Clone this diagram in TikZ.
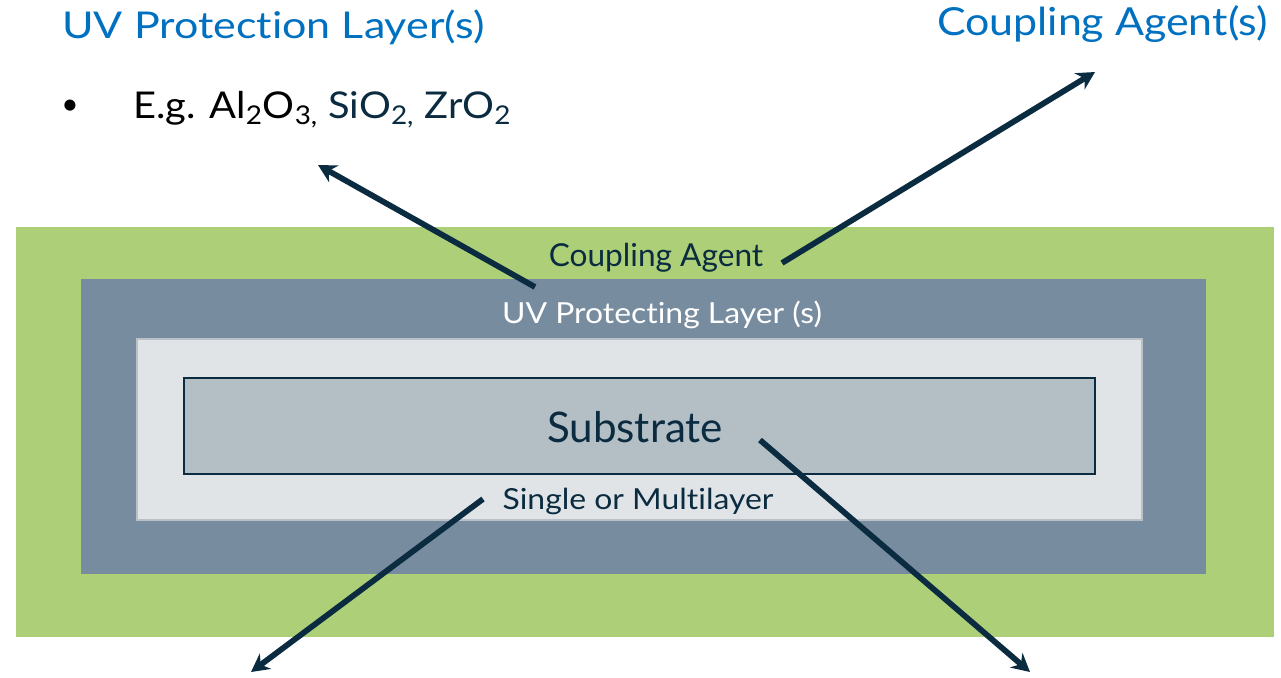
\documentclass[tikz,border=0pt]{standalone}
\usepackage{graphicx}
\usepackage{fontspec}
\setmainfont{Lato}[Ligatures=NoCommon]
\usetikzlibrary{arrows.meta}
\definecolor{coupgreen}{HTML}{ADCF78}
\definecolor{uvslate}{HTML}{788C9F}
\definecolor{layerpale}{HTML}{E0E4E7}
\definecolor{layeredge}{HTML}{B9C0C7}
\definecolor{subgray}{HTML}{B4BEC5}
\definecolor{navy}{HTML}{0B2C40}
\definecolor{titleblue}{HTML}{0070C0}
\tikzstyle{arrow} = [line width=0.115cm, draw=navy, -{Stealth[length=0.36cm,width=0.38cm]}]
\tikzstyle{lbl} = [inner sep=0pt, anchor=base]
\def\fsz#1{\fontsize{#1}{#1}\selectfont}
\def\wide#1#2{\scalebox{#1}[1]{#2}}

\begin{document}
\begin{tikzpicture}[x=0.02cm, y=-0.02cm]
\useasboundingbox (0,0) rectangle (1281,677);
% layers
\fill[coupgreen] (16,227) rectangle (1274,637);
\fill[uvslate] (81,279) rectangle (1206,574);
\filldraw[fill=layerpale, draw=layeredge, line width=0.03cm] (137,339) rectangle (1142,520);
\filldraw[fill=subgray, draw=navy, line width=0.03cm] (184,378) rectangle (1095,474);
% labels inside
\node[lbl, text=navy, font=\fsz{18}] (coup) at (656,266) {Coupling Agent};
\node[lbl, text=white, font=\fsz{16.5}] (uvlayer) at (662,323) {\wide{1.1}{UV Protecting Layer (s)}};
\node[lbl, text=navy, font=\fsz{24}] (sub) at (635,442) {Substrate};
\node[lbl, text=navy, font=\fsz{16.5}] (multi) at (638,509) {\wide{1.1}{Single or Multilayer}};
% labels outside
\node[lbl, anchor=base west, text=titleblue, font=\fsz{21}] (uvtitle) at (62,38) {\wide{1.165}{UV Protection Layer(s)}};
\node[lbl, anchor=base west, font=\fsz{17}] (bul) at (61,114) {\textbullet};
\node[lbl, anchor=base west, font=\fsz{21}] (eg) at (133,118) {\wide{1.08}{E.g. Al\textsubscript{2}O\textsubscript{3,} \textcolor{navy}{SiO\textsubscript{2,} ZrO\textsubscript{2}}}};
\node[lbl, anchor=base east, text=titleblue, font=\fsz{22}] (cagent) at (1268,35) {\wide{1.11}{Coupling Agent(s)}};
% arrows
\coordinate (a1) at (535,287);
\coordinate (b1) at (318,165);
\coordinate (a2) at (782,263);
\coordinate (b2) at (1095,72);
\coordinate (a3) at (483,499);
\coordinate (b3) at (251,672);
\coordinate (a4) at (760,440);
\coordinate (b4) at (1030,672);
\draw[arrow] (a1) -- (b1);
\draw[arrow] (a2) -- (b2);
\draw[arrow] (a3) -- (b3);
\draw[arrow] (a4) -- (b4);
\end{tikzpicture}
\end{document}
